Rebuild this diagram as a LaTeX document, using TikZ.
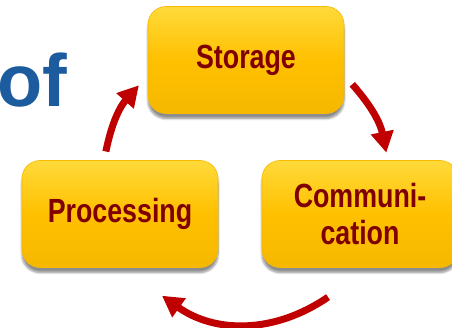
\documentclass[tikz,border=0pt]{standalone}
\usepackage{fontspec}
\setmainfont{Liberation Sans}
\newfontfamily\stagefont{Liberation Sans}[FakeStretch=0.8]
\usetikzlibrary{arrows.meta,shadows.blur}

\definecolor{gold}{HTML}{FFC000}
\definecolor{goldlight}{HTML}{FFDA3A}
\definecolor{golddark}{HTML}{F6B800}
\definecolor{maroon}{HTML}{7F0000}
\definecolor{cycred}{HTML}{C00000}
\definecolor{ofblue}{HTML}{1C5C9E}

\def\ringrad{143pt}

\begin{document}
\begin{tikzpicture}[x=1pt,y=1pt]
    \tikzstyle{stage}=[rectangle, rounded corners=18pt, minimum width=196pt, minimum height=107pt,
        top color=goldlight, bottom color=golddark, middle color=gold, draw=golddark, line width=0.6pt,
        blur shadow={shadow xshift=0pt, shadow yshift=-5pt, shadow blur steps=8, shadow opacity=45},
        font=\stagefont\bfseries\fontsize{33.5}{37}\selectfont, text=maroon, align=center, inner sep=0pt]
    \tikzstyle{cyc}=[draw=cycred, line width=7pt, -{Triangle[width=22pt,length=21pt,fill=cycred]}]

    \useasboundingbox (0,0) rectangle (452,328);

    %%%%%%%%%%%%%%%%%%%%%%%%%%%%%%%%%%%%%%%%%%%%
    %%% DRAW THE NODES
    %%%%%%%%%%%%%%%%%%%%%%%%%%%%%%%%%%%%%%%%%%%%
    \node[anchor=base west, inner sep=0pt, text=ofblue, font=\bfseries\fontsize{74}{80}\selectfont] (ofword) at (-3,221) {of};

    \node[stage] (S) at (246,268) {Storage};
    \node[stage] (P) at (120,114) {Processing};
    \node[stage, right of=P, node distance=240pt] (C) {Communi-\\cation};

    %%%%%%%%%%%%%%%%%%%%%%%%%%%%%%%%%%%%%%%%%%%%
    %%% DRAW THE PATHS
    %%%%%%%%%%%%%%%%%%%%%%%%%%%%%%%%%%%%%%%%%%%%
    \coordinate (hub) at (246,148);
    \foreach \name / \ang in {a1/168.5, b1/138.5, a2/42, b2/11, a3/-55, b3/-126}
        \path (hub) ++(\ang:\ringrad) coordinate (\name);

    \foreach \from / \to / \bend in {a1/b1/15, a2/b2/15, a3/b3/35}
        \draw[cyc] (\from) to[bend left=\bend] (\to);
\end{tikzpicture}
\end{document}
